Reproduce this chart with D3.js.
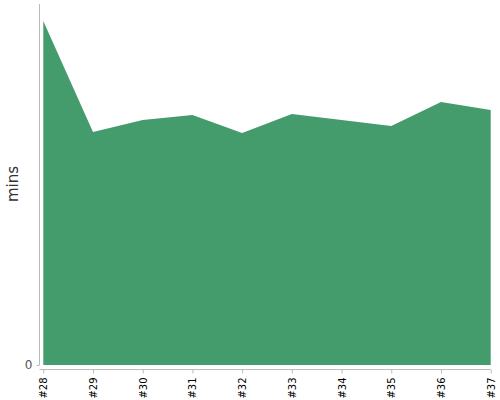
<!DOCTYPE html>
<html>
<head>
<meta charset="utf-8">
<script src="https://cdn.jsdelivr.net/npm/d3@7"></script>
<style>
  body { margin: 0; background: #fff; }
  svg { display: block; }
</style>
</head>
<body>
<svg id="chart" width="500" height="400"></svg>
<script>
const categories = ["#28", "#29", "#30", "#31", "#32", "#33", "#34", "#35", "#36", "#37"];
const minsValues = [34.4, 23.3, 24.5, 25.0, 23.2, 25.1, 24.5, 23.9, 26.3, 25.5];
const yTicks = [0];
const yLabel = "mins";
const yMax = 36.1;

(function () {
const svg = d3.select("#chart");
const mLeft = 43.3, mRight = 490.7, mTop = 4, mBottom = 365;

const x = d3.scalePoint().domain(categories).range([mLeft, mRight]);
const y = d3.scaleLinear().domain([0, yMax]).range([mBottom, mTop]);

const data = categories.map((c, i) => ({ c, v: minsValues[i] }));

svg.append("path")
  .datum(data)
  .attr("fill", "#449c6c")
  .attr("d", d3.area().x(d => x(d.c)).y0(y(0)).y1(d => y(d.v)));

// y axis
const yAxis = svg.append("g")
  .attr("transform", "translate(39.5,0)")
  .call(d3.axisLeft(y).tickValues(yTicks).tickSize(3).tickPadding(4));
yAxis.select(".domain").attr("d", `M0,${mTop}V${mBottom}`).attr("stroke", "#bbb");
yAxis.selectAll(".tick line").attr("stroke", "#bbb");
yAxis.selectAll(".tick text").attr("fill", "#555").attr("font-size", 12).attr("font-family", "DejaVu Sans");

// x axis
const xAxis = svg.append("g")
  .attr("transform", "translate(0,369.5)")
  .call(d3.axisBottom(x).tickSize(4).tickSizeOuter(0));
xAxis.select(".domain").attr("d", `M39.5,0H${mRight}`).attr("stroke", "#bbb");
xAxis.selectAll(".tick line").attr("stroke", "#bbb");
xAxis.selectAll(".tick text")
  .attr("fill", "#000")
  .attr("font-size", 10)
  .attr("font-family", "DejaVu Sans")
  .attr("transform", "rotate(-90)")
  .attr("text-anchor", "end")
  .attr("x", -8)
  .attr("y", 0)
  .attr("dy", "0.35em");

svg.append("text")
  .attr("transform", "translate(18,184) rotate(-90)")
  .attr("text-anchor", "middle")
  .attr("font-family", "DejaVu Sans")
  .attr("font-size", 15)
  .attr("fill", "#333")
  .text(yLabel);
})();
</script>
</body>
</html>
